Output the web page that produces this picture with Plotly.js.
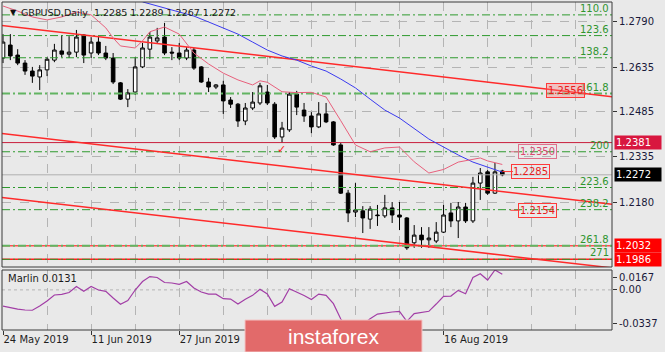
<!DOCTYPE html>
<html><head><meta charset="utf-8">
<script src="https://cdn.plot.ly/plotly-3.0.1.min.js"></script>
<style>html,body{margin:0;padding:0;background:#e9e9e9;}#chart{width:665px;height:352px;}</style>
</head><body><div id="chart"></div>
<script>
// ---------- DATA ----------
const tickIdx    = [0, 12, 24, 36, 48, 60];
const tickLabels = ["24 May 2019","11 Jun 2019","27 Jun 2019","15 Jul 2019","31 Jul 2019","16 Aug 2019"];
const tickHidden = [false,false,false,true,true,false];   // covered by the logo in the picture

const opens  = [1.2667,1.2711,1.2677,1.2650,1.2623,1.2603,1.2627,1.2660,1.2691,1.2680,
                1.2687,1.2745,1.2684,1.2721,1.2684,1.2667,1.2583,1.2528,1.2552,1.2637,
                1.2697,1.2725,1.2738,1.2687,1.2684,1.2667,1.2694,1.2637,1.2586,1.2569,
                1.2576,1.2525,1.2511,1.2454,1.2498,1.2515,1.2552,1.2511,1.2400,1.2424,
                1.2545,1.2491,1.2471,1.2434,1.2478,1.2451,1.2373,1.2210,1.2146,1.2150,
                1.2122,1.2136,1.2133,1.2160,1.2136,1.2126,1.2042,1.2068,1.2052,1.2048,
                1.2078,1.2143,1.2116,1.2163,1.2116,1.2244,1.2282,1.2210,1.2285];
const highs  = [1.2748,1.2748,1.2697,1.2660,1.2637,1.2643,1.2670,1.2715,1.2745,1.2741,
                1.2762,1.2748,1.2738,1.2738,1.2708,1.2684,1.2586,1.2562,1.2670,1.2718,
                1.2755,1.2769,1.2786,1.2704,1.2718,1.2704,1.2701,1.2640,1.2600,1.2579,
                1.2590,1.2535,1.2515,1.2515,1.2552,1.2583,1.2576,1.2518,1.2451,1.2552,
                1.2556,1.2515,1.2484,1.2518,1.2515,1.2454,1.2380,1.2221,1.2244,1.2166,
                1.2166,1.2170,1.2204,1.2180,1.2180,1.2129,1.2102,1.2095,1.2095,1.2112,
                1.2170,1.2177,1.2180,1.2177,1.2265,1.2295,1.2288,1.2312,1.2289];
const lows   = [1.2650,1.2660,1.2643,1.2610,1.2583,1.2559,1.2606,1.2653,1.2670,1.2667,
                1.2670,1.2650,1.2667,1.2677,1.2660,1.2579,1.2525,1.2501,1.2542,1.2633,
                1.2663,1.2718,1.2677,1.2660,1.2660,1.2660,1.2627,1.2583,1.2552,1.2562,
                1.2478,1.2498,1.2434,1.2440,1.2491,1.2508,1.2508,1.2393,1.2380,1.2417,
                1.2474,1.2451,1.2413,1.2430,1.2447,1.2370,1.2207,1.2112,1.2129,1.2075,
                1.2089,1.2099,1.2126,1.2109,1.2085,1.2018,1.2025,1.2025,1.2025,1.2041,
                1.2075,1.2095,1.2058,1.2109,1.2109,1.2187,1.2204,1.2207,1.2267];
const closes = [1.2721,1.2674,1.2650,1.2623,1.2606,1.2627,1.2663,1.2694,1.2680,1.2687,
                1.2738,1.2677,1.2721,1.2684,1.2667,1.2586,1.2528,1.2549,1.2637,1.2701,
                1.2738,1.2735,1.2684,1.2684,1.2667,1.2694,1.2633,1.2586,1.2569,1.2576,
                1.2522,1.2511,1.2454,1.2498,1.2518,1.2573,1.2515,1.2400,1.2430,1.2545,
                1.2501,1.2471,1.2434,1.2478,1.2451,1.2373,1.2210,1.2143,1.2153,1.2126,
                1.2156,1.2134,1.2160,1.2136,1.2129,1.2025,1.2068,1.2052,1.2058,1.2078,
                1.2136,1.2116,1.2163,1.2116,1.2244,1.2278,1.2210,1.2282,1.2272];

// slow moving average (blue)
const blueIdx  = [19,20,22,24,26,28,30,32,34,36,38,40,42,44,46,48,50,52,54,56,58,60,62,64,66,68];
const blueVals = [1.2857,1.2850,1.2838,1.2824,1.2809,1.2789,1.2769,1.2748,1.2721,1.2694,1.2674,1.2660,1.2640,
                  1.2623,1.2596,1.2566,1.2528,1.2491,1.2464,1.2427,1.2393,1.2366,1.2339,1.2315,1.2298,1.2281];
// fast moving average (pink)
const pinkIdx  = [0,2,4,6,8,10,12,14,15,16,18,19,20,22,24,26,28,30,32,34,35,36,38,40,42,44,46,48,50,52,54,56,58,60,62,64,65,66,68];
const pinkVals = [1.2843,1.2826,1.2806,1.2796,1.2806,1.2823,1.2813,1.2769,1.2735,1.2708,1.2701,1.2725,1.2756,
                  1.2772,1.2748,1.2684,1.2647,1.2616,1.2593,1.2576,1.2590,1.2585,1.2553,1.2550,1.2551,1.2535,
                  1.2455,1.2373,1.2350,1.2363,1.2366,1.2316,1.2278,1.2290,1.2315,1.2324,1.2329,1.2319,1.2307];

// Marlin oscillator
const marlinVals = [-0.0136,-0.0150,-0.0161,-0.0169,-0.0171,-0.0136,-0.0094,-0.0043,-0.0037,-0.0022,
                     0.0028,-0.0012, 0.0028,-0.0001,-0.0012,-0.0068,-0.0121,-0.0089,-0.0001, 0.0070,
                     0.0112, 0.0104, 0.0062, 0.0058, 0.0047, 0.0070, 0.0016,-0.0018,-0.0036,-0.0036,
                    -0.0074,-0.0077,-0.0119,-0.0079,-0.0046, 0.0005,-0.0035,-0.0138,-0.0102, 0.0010,
                    -0.0018,-0.0047,-0.0081,-0.0035,-0.0046,-0.0116,-0.0245,-0.0320,-0.0337,-0.0287,
                    -0.0242,-0.0203,-0.0192,-0.0186,-0.0180,-0.0264,-0.0199,-0.0190,-0.0180,-0.0119,
                    -0.0054,-0.0052,-0.0004,-0.0032, 0.0104, 0.0136, 0.0083, 0.0167, 0.0131];

// trend lines: [startIdx, startPrice, endIdx, endPrice]
const trendLines = [[-1,1.2780,84,1.2533],[-1,1.2414,84,1.2169],[-1,1.2198,84,1.1954]];

// Fibonacci levels
const fibNames  = ["110.0","123.6","138.2","161.8","200","223.6","238.2","261.8","271"];
const fibPrices = [1.2813,1.2743,1.2668,1.2547,1.2350,1.2229,1.2154,1.2032,1.1986];

// horizontal level lines
const hLevels = [1.2381,1.2272,1.2032,1.1986];

// price axis ticks
const priceTicks = [1.2790,1.2635,1.2485,1.2335,1.2180];
const marlinTickVals = [0.0108,0,-0.0284];
const marlinTickText = ["0.0167","0.00","-0.0337"];

// price labels inside the chart: [text, idx, price, leaderStartIdx]
const boxLabels = [["1.2556",76.6,1.2556,null],["1.2350",72.8,1.2350,69.1],["1.2285",71.9,1.2283,68.0],["1.2154",72.8,1.2152,69.1]];
// highlighted labels on price axis
const axisLabels = [["1.2381",1.2381,"#d8173f"],["1.2272",1.2272,"#000000"],["1.2032",1.2032,"#ff0000"],["1.1986",1.1986,"#ff0000"]];

// ---------- LAYOUT HELPERS ----------
const W=665,H=352,ML=2,MR=53,MT=2,MB=22;
const PW=W-ML-MR, PH=H-MT-MB;
const fx=px=>(px-ML)/PW, fy=py=>1-(py-MT)/PH;
const X_RANGE=[-0.136,82.94];
const Y_RANGE=[1.19601,1.28566];
const M_RANGE=[-0.0337,0.0167];
const BG='#e9e9e9', GRID='#b4b4b4', FONT='DejaVu Sans';
const idx = closes.map((_,i)=>i);
const BAR_PX = PW/(X_RANGE[1]-X_RANGE[0]);

const traces=[];
const hColors=['#c81e3c','#b0b0b0','#ff5050','#ff2020'];
const hWidths=[1,1,1.5,1.5];
hLevels.forEach((p,k)=>traces.push({type:'scatter',mode:'lines',x:X_RANGE,y:[p,p],xaxis:'x2',yaxis:'y',
  line:{color:hColors[k],width:hWidths[k]},hoverinfo:'skip'}));
fibPrices.forEach((p,k)=>{
  const thick = (fibNames[k]==="161.8"||fibNames[k]==="261.8");
  traces.push({type:'scatter',mode:'lines',x:X_RANGE,y:[p,p],xaxis:'x2',yaxis:'y',
    line:{color:thick?'#62b462':'#2e9a2e',width:thick?2:1,dash:'8px,3px,2px,3px'},hoverinfo:'skip'});
});
traces.push({type:'candlestick',x:idx,open:opens,high:highs,low:lows,close:closes,xaxis:'x2',yaxis:'y',
  increasing:{line:{color:'#000',width:1},fillcolor:'#ffffff'},
  decreasing:{line:{color:'#000',width:1},fillcolor:'#000000'},
  whiskerwidth:0,hoverinfo:'skip'});
trendLines.forEach(t=>traces.push({type:'scatter',mode:'lines',x:[t[0],t[2]],y:[t[1],t[3]],xaxis:'x2',yaxis:'y',
  line:{color:'#ff2a2a',width:1.5},hoverinfo:'skip'}));
traces.push({type:'scatter',mode:'lines',x:blueIdx,y:blueVals,xaxis:'x2',yaxis:'y',line:{color:'#3b3bf0',width:1},hoverinfo:'skip'});
traces.push({type:'scatter',mode:'lines',x:pinkIdx,y:pinkVals,xaxis:'x2',yaxis:'y',line:{color:'#e8607c',width:1},hoverinfo:'skip'});
// leader lines of the price labels
boxLabels.forEach((b,k)=>{ if(b[3]!==null) traces.push({type:'scatter',mode:'lines',x:[b[3],b[1]-18/BAR_PX],y:[b[2],b[2]],xaxis:'x2',yaxis:'y',
  line:{color:k===1?'#e0708c':'#ff3a3a',width:1},hoverinfo:'skip'}); });
// marlin zero grid
traces.push({type:'scatter',mode:'lines',x:X_RANGE,y:[0,0],xaxis:'x',yaxis:'y2',line:{color:GRID,width:1,dash:'3px,3px'},hoverinfo:'skip'});
traces.push({type:'scatter',mode:'lines',x:idx,y:marlinVals,xaxis:'x',yaxis:'y2',line:{color:'#a23ea6',width:1.2},hoverinfo:'skip'});

const annotations=[];
annotations.push({xref:'paper',yref:'paper',x:fx(8),y:fy(12),xanchor:'left',yanchor:'middle',text:'▼',showarrow:false,font:{family:FONT,size:8,color:'#111'}});
annotations.push({xref:'paper',yref:'paper',x:fx(19),y:fy(12),xanchor:'left',yanchor:'middle',
  text:'GBPUSD,Daily  '+[opens[68],highs[68],lows[68],closes[68]].map(v=>v.toFixed(4)).join(' '),showarrow:false,font:{family:FONT,size:9.5,color:'#1a1a1a'}});
fibNames.forEach((n,k)=>annotations.push({xref:'paper',yref:'y',x:1,y:fibPrices[k],xanchor:'right',yanchor:'bottom',xshift:-1,yshift:-1,
  text:n,showarrow:false,font:{family:FONT,size:10,color:'#2f952f'}}));
boxLabels.forEach((b,k)=>annotations.push({xref:'x2',yref:'y',x:b[1],y:b[2],text:b[0],showarrow:false,
  font:{family:FONT,size:10,color:k===1?'#d94a70':'#e81c1c'},bordercolor:k===1?'#e0708c':'#ff3a3a',borderwidth:1,borderpad:1,
  bgcolor:k===0?'rgba(255,120,120,0.35)':'rgba(0,0,0,0)'}));
axisLabels.forEach(a=>annotations.push({xref:'paper',yref:'y',x:1,y:a[1],xanchor:'left',yanchor:'middle',xshift:2,
  text:a[0],showarrow:false,width:44,align:'left',font:{family:FONT,size:10,color:'#ffffff'},bgcolor:a[2],borderpad:1}));
annotations.push({xref:'paper',yref:'paper',x:fx(6),y:fy(278),xanchor:'left',yanchor:'middle',
  text:'Marlin '+marlinVals[marlinVals.length-1].toFixed(4),showarrow:false,font:{family:FONT,size:10,color:'#1a1a1a'}});
annotations.push({xref:'paper',yref:'paper',x:fx(281),y:fy(149),text:'✓',showarrow:false,font:{family:FONT,size:11,color:'#ff2020'}});
annotations.push({xref:'paper',yref:'paper',x:fx(333.5),y:fy(336),xanchor:'center',yanchor:'middle',text:'instaforex',showarrow:false,
  font:{family:'Liberation Sans',size:21,color:'#ffffff'}});

const mainDom=[fy(267),1], indDom=[0,fy(270)];
const shapes=[
  {type:'rect',xref:'paper',yref:'paper',x0:0,x1:1,y0:mainDom[0],y1:mainDom[1],line:{color:'#3a3a3a',width:1},layer:'above'},
  {type:'rect',xref:'paper',yref:'paper',x0:0,x1:1,y0:indDom[0],y1:indDom[1],line:{color:'#3a3a3a',width:1},layer:'above'},
  {type:'rect',xref:'paper',yref:'paper',x0:fx(245),x1:fx(422),y0:fy(352),y1:fy(320),fillcolor:'#e26a6a',line:{color:'#f3c4c4',width:1},layer:'above'}
];

const gridAxis={showgrid:true,gridcolor:GRID,griddash:'dash',gridwidth:1,
  minor:{tickmode:'linear',tick0:0,dtick:6,showgrid:true,gridcolor:GRID,griddash:'dash',ticks:''}};
const layout={width:W,height:H,margin:{l:ML,r:MR,t:MT,b:MB,pad:0},paper_bgcolor:BG,plot_bgcolor:BG,showlegend:false,
  xaxis:Object.assign({domain:[0,1],anchor:'y2',range:X_RANGE,tickmode:'array',tickvals:tickIdx,
    ticktext:tickLabels.map((t,k)=>tickHidden[k]?'':t),
    ticks:'outside',ticklen:4,tickcolor:'#333',ticklabelposition:'outside right',
    tickfont:{family:FONT,size:10,color:'#1e1e1e'},zeroline:false,showline:false,fixedrange:true,rangeslider:{visible:false}},gridAxis),
  xaxis2:Object.assign({domain:[0,1],anchor:'y',matches:'x',range:X_RANGE,tickmode:'array',tickvals:tickIdx,
    showticklabels:false,ticks:'',zeroline:false,showline:false,fixedrange:true,rangeslider:{visible:false}},gridAxis),
  yaxis:{domain:mainDom,anchor:'x2',side:'right',range:Y_RANGE,tickmode:'array',tickvals:priceTicks,
    ticktext:priceTicks.map(v=>v.toFixed(4)),ticks:'outside',ticklen:4,tickcolor:'#333',
    tickfont:{family:FONT,size:10,color:'#1a1a3a'},showgrid:true,gridcolor:GRID,griddash:'dash',zeroline:false,showline:false,fixedrange:true},
  yaxis2:{domain:indDom,anchor:'x',side:'right',range:M_RANGE,tickmode:'array',tickvals:marlinTickVals,ticktext:marlinTickText,
    ticks:'outside',ticklen:4,tickcolor:'#333',tickfont:{family:FONT,size:10,color:'#1a1a3a'},showgrid:false,zeroline:false,showline:false,fixedrange:true},
  annotations:annotations,shapes:shapes};

Plotly.newPlot('chart',traces,layout,{staticPlot:true,displayModeBar:false});
</script></body></html>
